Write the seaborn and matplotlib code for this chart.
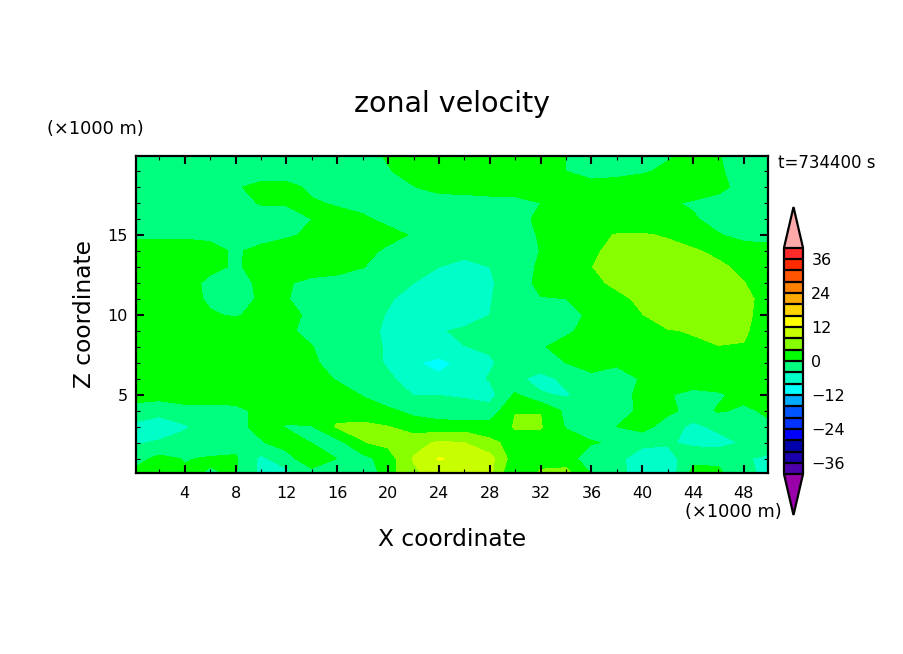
import numpy as np
import matplotlib
matplotlib.use("Agg")
import matplotlib.pyplot as plt
from matplotlib.colors import ListedColormap, BoundaryNorm
import seaborn as sns

# grid of the field, km
x_km = [0, 2, 4, 6, 8, 10, 12, 14, 16, 18, 20, 22, 24, 26, 28, 30, 32, 34, 36, 38, 40, 42, 44, 46, 48, 50]
z_km = [20, 19, 18, 17, 16, 15, 14, 13, 12, 11, 10, 9, 8, 7, 6, 5, 4, 3, 2, 1, 0]

# zonal velocity, one row per height
u_z20 = [-1.5, -1.5, -1.5, -1.5, -1.5, -1.5, -1.5, -1.5, -1.5, -1, 0.3, 1.5, 1.5, 1.5, 1.5, 1.5, 1.5, 0, -1, -1, -0.8, -0.3, 0.8, 0.1, -1, -1.5]
u_z19 = [-1.5, -1.5, -1.5, -1.5, -1.5, -1.5, -1.5, -1.5, -1.5, -1, -0.2, 1, 1.5, 1.5, 1.5, 1.5, 1.5, 0, -1, -0.8, -0.3, 0.5, 1, 0.3, -1, -1.5]
u_z18 = [-1.5, -1.5, -1.5, -1, -0.3, 0.8, 0.8, -0.5, -1, -1.2, -0.8, -0.1, 0.8, 1, 1.5, 1.5, 1.5, 1, 1, 1.2, 1.5, 1.5, 1.5, 0.6, -0.8, -1.5]
u_z17 = [-1.5, -1.5, -1.5, -1.5, -1, 0.2, 0.2, 0.3, -0.3, -1, -1.2, -1.2, -1.2, -1.2, -1.2, -1, 0, 1, 1.2, 1, 1, 0.3, -0.3, -0.8, -1.5, -1.5]
u_z16 = [-1.5, -1.5, -1.5, -1.5, -1.5, -1.5, -1, 0, 1, 0.5, -0.8, -1.5, -1.5, -1.5, -1.5, -1, 0.6, 1.2, 1.5, 1.5, 1.5, 1.5, 0.3, -1, -1.8, -1.8]
u_z15 = [-0.5, -0.5, -0.5, -0.5, -0.8, -1, -0.4, 0.5, 1.5, 1.5, 1, -0.3, -1.5, -2, -2, -1.5, 0.3, 1.5, 3, 4.2, 4.3, 3.7, 2, 0.2, -1, -1]
u_z14 = [1.5, 1.5, 1.5, 0.7, -0.3, 0.7, 1.5, 1.5, 1.5, 1, -0.6, -1.5, -2, -3, -2.5, -2, 0.1, 1.5, 3.4, 5, 5.5, 5, 4.5, 3, 1.5, 1]
u_z13 = [1.5, 1.5, 1.5, 0.6, -0.3, 0.8, 1.5, 1.5, 1, 0.1, -1.5, -3, -4, -5, -4, -2, 0.6, 1.5, 3.9, 5.5, 6, 6, 5.5, 4.8, 3, 1.5]
u_z12 = [1.5, 1.5, 1, -0.6, -1.2, 0.6, 0.3, -0.8, -1, -1.8, -2.8, -4, -5.5, -6, -4.5, -2, 1, 1.5, 3, 4.8, 6, 6.5, 6.5, 5.5, 4.1, 2]
u_z11 = [1.5, 1.5, 1.2, -0.5, -1.2, 0.4, 0.1, -0.8, -1.5, -2.5, -3.7, -5, -6, -6.5, -4.2, -2, -0.2, 0, 1.5, 3, 4.8, 6, 6.3, 6, 5, 2.5]
u_z10 = [1.5, 1.5, 1.2, 0.3, -0.3, 1, 1, -0.7, -1.5, -2.8, -4.2, -5.5, -6.5, -7, -4, -2.5, -2, -1, 0.5, 2, 3.9, 5.5, 6.3, 6, 5, 2]
u_z9 = [2, 2, 2, 2, 2, 2, 0.6, -1, -2, -3, -4.5, -6, -4.5, -3, -2.5, -2, -1.5, -0.5, 1, 2, 3, 3.8, 4.2, 5, 4.5, 2]
u_z8 = [2, 2, 2, 2, 2, 2, 1.5, 0.1, -1.5, -3, -4.3, -5.5, -4.3, -4.1, -3.5, -2, -0.3, 1, 2, 2, 2, 2.5, 3.5, 3.9, 3.8, 2]
u_z7 = [2, 2, 2, 2, 2, 2, 2, 0.6, -1.5, -2.8, -4.3, -7.5, -9.5, -6.5, -4.5, -2, -1.5, 0, 1.5, 0.5, 2, 2, 2, 2, 2, 2]
u_z6 = [2, 2, 2, 2, 2, 2, 2, 1.5, -0.3, -2, -3.6, -5, -7, -6, -3.7, -3, -5.5, -3, -1, -1.5, 0.3, 2, 2, 2, 2, 2]
u_z5 = [1.5, 1.5, 1.5, 1.5, 1.5, 1.5, 2, 2, 1.5, -0.2, -2.5, -4.1, -4.1, -4.3, -5.5, 0.5, -3.5, -4.5, -2, -1, 0.6, 0.3, -1, -0.4, 0.8, 1]
u_z4 = [-1.5, -2.5, -1, -1, -0.8, 0.8, 1.5, 2, 2, 1.5, 0.7, -1, -2, -3, -2.5, 3.9, 3.9, -1, -3, -2, 1, 1, -1.5, 0.3, -0.5, 0.5]
u_z3 = [-5, -6.5, -4.5, -2, -1, 1, -0.2, -0.2, 4.5, 5, 4.1, 2, 1.5, 2, 1.5, 4.3, 4.3, -0.3, -2, 0, 1.5, -2, -5, -3, -2, -0.5]
u_z2 = [-4.5, -3.5, -2.5, -2, -1.5, -0.3, 1.5, -0.1, -1.5, 3.8, 5, 6.5, 8.6, 8, 5, 2.5, 2.5, 2, 0.3, -0.5, -3, -3.5, -5, -5.5, -3.5, -1.5]
u_z1 = [-1.5, 1, -0.2, 0.3, 0.5, -5, -1.5, 3, -0.1, -1.5, 2, 8.3, 12.3, 11, 9.5, 1.5, 2, 2, -2.5, -3, -6, -6, -1, -1, -3.5, -5]
u_z0 = [1, 1.5, 0.5, -0.3, 0.2, -5, -5.5, -2, -2, -4.1, 2.5, 7, 10, 11, 9, -1, 5, 5.5, 0, -2, -7, -7, 1.5, 1, -3, -5]

# contour bands and their colours
levels = [-40, -36, -32, -28, -24, -20, -16, -12, -8, -4, 0, 4, 8, 12, 16, 20, 24, 28, 32, 36, 40]
band_colors = ["#4d00aa", "#1a00aa", "#0000aa", "#0000ff", "#0033ff", "#0055ff", "#00aaff", "#00ffff", "#00ffc8", "#00ff7f",
               "#00ff00", "#88ff00", "#c8ff00", "#ffff00", "#ffd400", "#ffaa00", "#ff7f00", "#ff5500", "#ff2a00", "#ff2a2a"]
under_color = "#9900aa"
over_color = "#ffaaaa"
cbar_ticks = [-36, -24, -12, 0, 12, 24, 36]
x_ticks = [4, 8, 12, 16, 20, 24, 28, 32, 36, 40, 44, 48]
z_ticks = [5, 10, 15]

sns.set_style("ticks", {"text.color": "black", "axes.labelcolor": "black", "xtick.color": "black", "ytick.color": "black"})
plt.rcParams["font.family"] = ["DejaVu Sans"]

W, H = 904, 654
fig = plt.figure(figsize=(W / 100, H / 100), dpi=100)
ax = fig.add_axes([136 / W, 1 - 473 / H, 632 / W, 317 / H])
ax.set_axisbelow(False)

u = np.array([u_z20, u_z19, u_z18, u_z17, u_z16, u_z15, u_z14, u_z13, u_z12, u_z11, u_z10, u_z9, u_z8, u_z7, u_z6,
              u_z5, u_z4, u_z3, u_z2, u_z1, u_z0])

cmap = ListedColormap(sns.color_palette(band_colors))
cmap.set_under(under_color)
cmap.set_over(over_color)
norm = BoundaryNorm(levels, cmap.N)
cf = ax.contourf(x_km, z_km, u, levels=levels, cmap=cmap, norm=norm, extend="both")

ax.set_xlim(0.16, 49.9)
ax.set_ylim(0.1, 19.95)
ax.set_xticks(x_ticks)
ax.set_yticks(z_ticks)
ax.set_xticks(range(2, 50, 2), minor=True)
ax.set_yticks(range(1, 20), minor=True)
ax.tick_params(which="major", direction="in", top=True, right=True, length=6, width=1.5, color="black", labelsize=11.5)
ax.tick_params(which="minor", direction="in", top=True, right=True, length=3, width=0.8, color="black")
ax.tick_params(axis="x", which="major", pad=9)
ax.tick_params(axis="y", which="major", pad=6)
for s in ax.spines.values():
    s.set_linewidth(1.6)
    s.set_color("black")

ax.set_xlabel("X coordinate", fontsize=16.8, labelpad=20)
ax.set_ylabel("Z coordinate", fontsize=16.8, labelpad=8)
fig.text(452 / W, 1 - 104 / H, "zonal velocity", fontsize=20.5, ha="center", va="center")
fig.text(47 / W, 1 - 129 / H, "(×1000 m)", fontsize=12.8, ha="left", va="center")
fig.text(782 / W, 1 - 512 / H, "(×1000 m)", fontsize=12.8, ha="right", va="center")
fig.text(778 / W, 1 - 163 / H, "t=734400 s", fontsize=12, ha="left", va="center")

# the extend tips are drawn inside this axes
cax = fig.add_axes([784 / W, 1 - 515 / H, 19 / W, 308 / H])
cbar = fig.colorbar(cf, cax=cax, ticks=cbar_ticks, drawedges=True, extendfrac=0.18)
cbar.minorticks_off()
cbar.dividers.set_color("black")
cbar.dividers.set_linewidth(1.6)
cbar.outline.set_edgecolor("black")
cbar.outline.set_linewidth(1.6)
cbar.ax.tick_params(length=0, pad=6, labelsize=11.5)

fig.savefig("out.png", dpi=100)
